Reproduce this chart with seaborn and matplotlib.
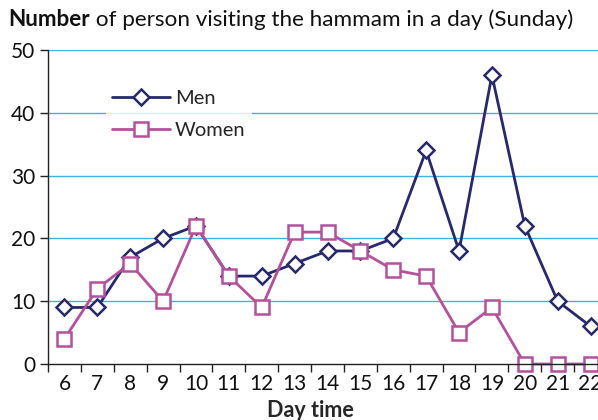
import pandas as pd
import matplotlib
matplotlib.use("Agg")
import matplotlib.pyplot as plt
import seaborn as sns

hours = [6, 7, 8, 9, 10, 11, 12, 13, 14, 15, 16, 17, 18, 19, 20, 21, 22]
men = [9, 9, 17, 20, 22, 14, 14, 16, 18, 18, 20, 34, 18, 46, 22, 10, 6]
women = [4, 12, 16, 10, 22, 14, 9, 21, 21, 18, 15, 14, 5, 9, 0, 0, 0]
y_ticks = [0, 10, 20, 30, 40, 50]

sns.set_theme(style="white")
plt.rcParams['font.family'] = ['Lato', 'DejaVu Sans']

men_col = '#27296e'
women_col = '#b5509c'
grid_col = '#3cb4e2'

fig = plt.figure(figsize=(5.98, 4.2), dpi=100)
ax = fig.add_axes([48 / 598, 56 / 420, 559 / 598, 314 / 420])

df = pd.DataFrame({'hour': hours, 'Men': men, 'Women': women})

sns.lineplot(data=df, x='hour', y='Men', ax=ax, color=men_col, lw=2,
             marker='D', markersize=8, markerfacecolor='white',
             markeredgecolor=men_col, markeredgewidth=1.8, clip_on=False,
             label='Men')
sns.lineplot(data=df, x='hour', y='Women', ax=ax, color=women_col, lw=2,
             marker='s', markersize=10.5, markerfacecolor='white',
             markeredgecolor=women_col, markeredgewidth=1.8, clip_on=False,
             label='Women')

ax.set_xlim(5.5, 22.5)
ax.set_ylim(0, 50)
ax.set_yticks(y_ticks)
ax.set_xticks(hours)
ax.set_xticks([h + 0.5 for h in [5] + hours], minor=True)
ax.tick_params(axis='x', which='major', length=0, labelsize=15, pad=7, colors='#111111')
ax.tick_params(axis='x', which='minor', length=6, width=1, direction='out',
               bottom=True, color='#222222')
ax.tick_params(axis='y', length=6, width=1, direction='out', left=True,
               labelsize=15, colors='#111111', pad=3)
ax.tick_params(axis='y', color='#222222')

for y in y_ticks[1:]:
    ax.axhline(y, color=grid_col, lw=1, zorder=0)

for s in ['top', 'right']:
    ax.spines[s].set_visible(False)
for s in ['left', 'bottom']:
    ax.spines[s].set_color('#222222')
    ax.spines[s].set_linewidth(1)

ax.set_ylabel('')
ax.set_xlabel('Day time', fontsize=15.5, fontweight='bold', labelpad=2)
ax.xaxis.set_label_coords(262 / 559, -0.115)

leg = ax.legend(loc='upper left', bbox_to_anchor=(0.085, 0.925), fontsize=14.5,
                handlelength=2.9, handletextpad=0.25, labelspacing=0.75,
                frameon=True, fancybox=False, borderpad=0.3)
leg.get_frame().set_facecolor('white')
leg.get_frame().set_linewidth(0)

# title with bold first word
t1 = fig.text(8 / 598, 1 - 20 / 420, 'Number', fontsize=16.2, fontweight='bold',
              va='center', ha='left', color='#111111')
fig.canvas.draw()
bb = t1.get_window_extent()
x2 = fig.transFigure.inverted().transform((bb.x1, bb.y0))[0]
fig.text(x2, 1 - 20 / 420, ' of person visiting the hammam in a day (Sunday)',
         fontsize=16.2, va='center', ha='left', color='#111111')

fig.savefig('out.png', dpi=100)
